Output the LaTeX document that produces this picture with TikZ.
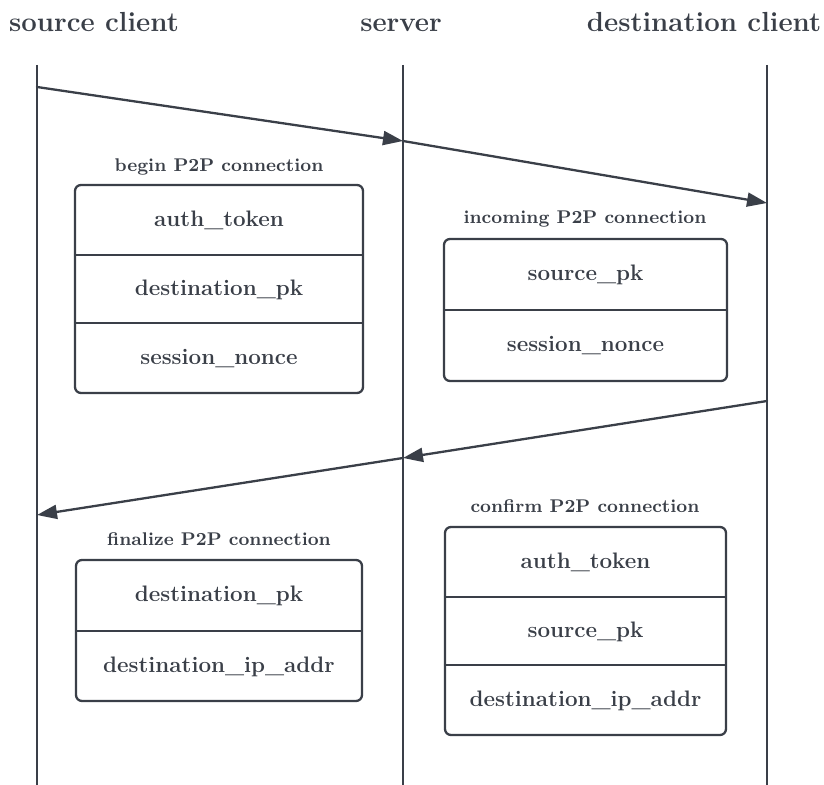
\documentclass[tikz,border=0pt]{standalone}
\usetikzlibrary{arrows.meta}
\definecolor{ink}{HTML}{3A3F48}
\tikzset{
  lifeline/.style={draw=ink, line width=1.15pt},
  msg/.style={draw=ink, line width=1.15pt, line cap=round, -{Triangle[length=10pt,width=7pt]}},
  record/.style={draw=ink, line width=1.15pt, rounded corners=3pt, inner sep=0pt},
  divider/.style={draw=ink, line width=1.15pt},
  head/.style={font=\bfseries\fontsize{13.8}{16}\selectfont, text=ink, anchor=base},
  field/.style={font=\bfseries\fontsize{11.2}{13}\selectfont, text=ink, anchor=mid},
  caption/.style={font=\bfseries\fontsize{9.2}{11}\selectfont, text=ink, anchor=mid}
}
\begin{document}
\begin{tikzpicture}[x=0.5pt, y=-0.5pt]
\useasboundingbox (0,0) rectangle (824,785);

% participants
\node[head] (hsrc) at (94,32) {source client};
\node[head] (hsrv) at (401,32) {server};
\node[head] (hdst) at (704,32) {destination client};

% lifelines
\coordinate (srcTop) at (37,65);   \coordinate (srcBot) at (37,785);
\coordinate (srvTop) at (403,65);  \coordinate (srvBot) at (403,785);
\coordinate (dstTop) at (767,65);  \coordinate (dstBot) at (767,785);
\draw[lifeline] (srcTop) -- (srcBot);
\draw[lifeline] (srvTop) -- (srvBot);
\draw[lifeline] (dstTop) -- (dstBot);

% request: source -> server -> destination
\coordinate (reqA) at (37,87);
\coordinate (reqB) at (403,141);
\coordinate (reqC) at (767,203);
\draw[msg] (reqA) -- (reqB);
\draw[msg] (reqB) -- (reqC);

% reply: destination -> server -> source
\coordinate (repA) at (767,401);
\coordinate (repB) at (403,458);
\coordinate (repC) at (37,515);
\draw[msg] (repA) -- (repB);
\draw[msg] (repB) -- (repC);

% begin P2P connection
\node[caption] (capA) at (219,167) {begin P2P connection};
\node[record, minimum width=144pt, minimum height=104pt] (boxA) at (219,289) {};
\draw[divider] (boxA.west |- 0,255) -- (boxA.east |- 0,255);
\draw[divider] (boxA.west |- 0,323) -- (boxA.east |- 0,323);
\node[field] (a1) at (219,222) {auth\_token};
\node[field] (a2) at (219,291) {destination\_pk};
\node[field] (a3) at (219,360) {session\_nonce};

% incoming P2P connection
\node[caption] (capB) at (585,219) {incoming P2P connection};
\node[record, minimum width=141.5pt, minimum height=71pt] (boxB) at (585.5,310) {};
\draw[divider] (boxB.west |- 0,310) -- (boxB.east |- 0,310);
\node[field] (b1) at (585.5,276.5) {source\_pk};
\node[field] (b2) at (585.5,347.5) {session\_nonce};

% finalize P2P connection
\node[caption] (capC) at (219,541) {finalize P2P connection};
\node[record, minimum width=143pt, minimum height=70.5pt] (boxC) at (219,630.5) {};
\draw[divider] (boxC.west |- 0,631) -- (boxC.east |- 0,631);
\node[field] (c1) at (219,597.5) {destination\_pk};
\node[field] (c2) at (219,668) {destination\_ip\_addr};

% confirm P2P connection
\node[caption] (capD) at (585,508) {confirm P2P connection};
\node[record, minimum width=140.5pt, minimum height=104pt] (boxD) at (585.5,631) {};
\draw[divider] (boxD.west |- 0,597) -- (boxD.east |- 0,597);
\draw[divider] (boxD.west |- 0,665) -- (boxD.east |- 0,665);
\node[field] (d1) at (585.5,564) {auth\_token};
\node[field] (d2) at (585.5,633) {source\_pk};
\node[field] (d3) at (585.5,702) {destination\_ip\_addr};
\end{tikzpicture}
\end{document}
